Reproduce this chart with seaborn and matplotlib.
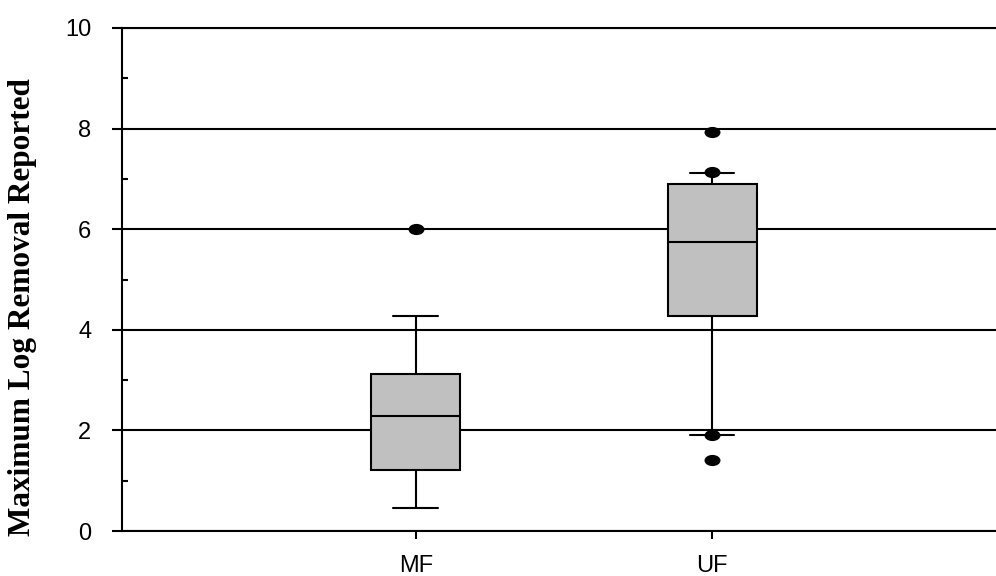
import numpy as np
import pandas as pd
import matplotlib
matplotlib.use("Agg")
import matplotlib.pyplot as plt
from matplotlib.path import Path
from matplotlib.transforms import Affine2D
import seaborn as sns

# ---- data ----
categories = ["MF", "UF"]
whisker_low = [0.46, 1.90]
q1 = [1.22, 4.28]
median = [2.29, 5.75]
q3 = [3.13, 6.90]
whisker_high = [4.28, 7.11]
outlier_group = ["MF", "UF", "UF", "UF", "UF"]
outlier_value = [6.00, 7.93, 7.13, 1.90, 1.41]
y_ticks = [0, 2, 4, 6, 8, 10]
y_minor_ticks = [1, 3, 5, 7, 9]
y_label = "Maximum Log Removal Reported"

# five-number summary rows (whis=(0,100) makes whiskers = min/max,
# quartiles interpolate exactly to these points)
rows = []
for c, lo, a, m, b, hi in zip(categories, whisker_low, q1, median, q3, whisker_high):
    for v in (lo, a, m, b, hi):
        rows.append({"group": c, "value": v})
df = pd.DataFrame(rows)
out_df = pd.DataFrame({"group": outlier_group, "value": outlier_value})

sns.set_style("white")
plt.rcParams["font.family"] = ["Liberation Sans", "DejaVu Sans"]
plt.rcParams["text.color"] = "black"
plt.rcParams["xtick.color"] = "black"
plt.rcParams["ytick.color"] = "black"
plt.rcParams["axes.labelcolor"] = "black"

fig = plt.figure(figsize=(9.96, 5.76), dpi=100)
ax = fig.add_axes([122 / 996, 45 / 576, 874 / 996, 503 / 576])

sns.boxplot(data=df, x="group", y="value", order=categories, whis=(0, 100),
            width=0.3, color="#c0c0c0", saturation=1, linecolor="black",
            linewidth=1.5, showfliers=False, ax=ax)

ellipse = Path.unit_circle().transformed(Affine2D().scale(1.0, 0.7))
sns.stripplot(data=out_df, x="group", y="value", order=categories, jitter=False,
              color="black", marker=ellipse, size=11.5, linewidth=0, ax=ax,
              zorder=5)

ax.set_xlim(-0.991, 1.958)
ax.set_ylim(0, 10)
ax.set_yticks(y_ticks)
ax.set_yticklabels([str(t) for t in y_ticks])
ax.set_yticks(y_minor_ticks, minor=True)

ax.set_axisbelow(True)
ax.yaxis.grid(True, which="major", color="black", linewidth=1.5)
ax.xaxis.grid(False)

ax.spines["right"].set_visible(False)
for side in ["left", "bottom", "top"]:
    ax.spines[side].set_visible(True)
    ax.spines[side].set_color("black")
    ax.spines[side].set_linewidth(1.5)

ax.tick_params(axis="y", which="major", direction="out", length=7, width=1.5,
               pad=15, labelsize=17, left=True, colors="black")
ax.tick_params(axis="y", which="minor", direction="in", length=4.5, width=1.5,
               left=True, colors="black")
ax.tick_params(axis="x", which="major", direction="out", length=5.5, width=1.5,
               pad=12, labelsize=17, bottom=True, colors="black")

ax.set_xlabel("")
ax.set_ylabel(y_label, fontfamily=["Liberation Serif", "DejaVu Serif"],
              fontweight="bold", fontsize=22.5, color="black")
ax.yaxis.set_label_coords(-0.097, 0.445)

fig.savefig("out.png", dpi=100)
